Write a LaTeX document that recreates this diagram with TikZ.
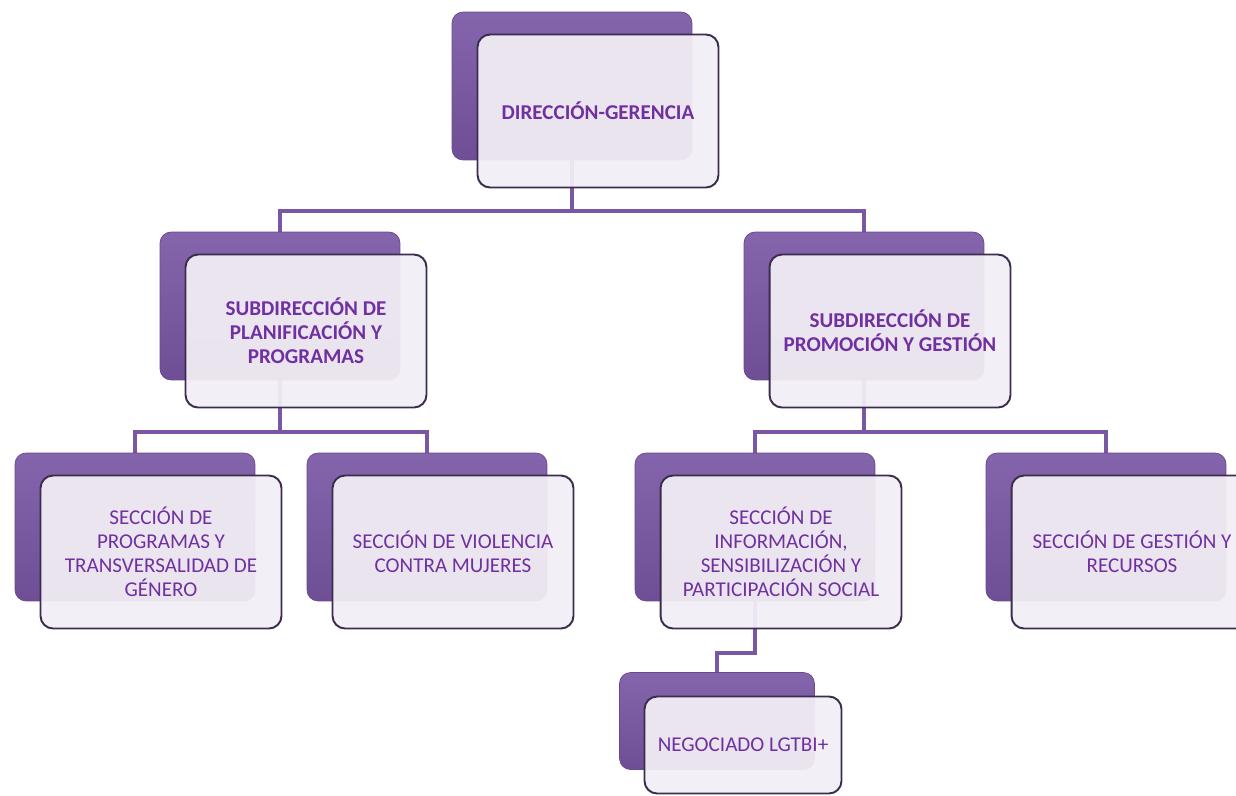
\documentclass[tikz,border=0pt]{standalone}
\usepackage{fontspec}
\setmainfont{Carlito}
\usetikzlibrary{positioning,backgrounds}
\definecolor{orgPurple}{HTML}{7A57A5}
\definecolor{orgEdge}{HTML}{3C2C4E}
\definecolor{orgText}{HTML}{7030A0}
\definecolor{orgPane}{HTML}{F2EEF5}

\begin{document}
\begin{tikzpicture}[x=0.02cm, y=-0.02cm, semithick]
	\tikzstyle{back} = [rectangle, rounded corners=0.22cm, draw=orgPurple!85!black, thin, top color=orgPurple!92!white, bottom color=orgPurple!90!black, minimum width=4.8cm, minimum height=2.96cm, inner sep=0pt];
	\tikzstyle{pane} = [rectangle, rounded corners=0.25cm, draw=orgEdge, line width=1.1pt, fill=orgPane, fill opacity=0.94, text opacity=1, minimum width=4.82cm, minimum height=3.06cm, align=center, text=orgText, font={\fontsize{12}{13.6}\selectfont}];
	\tikzstyle{paneHead} = [pane, font={\fontsize{12}{13.6}\selectfont\bfseries}];
	\tikzstyle{link} = [draw=orgPurple, line width=2.3pt];
	\useasboundingbox (0,0) rectangle (1236,795);

	% back plates
	\node[back] (dir) at (572,86) {};
	\node[back] (subA) at (280,306) {};
	\node[back] (subB) at (864,306) {};
	\node[back] (secA) at (135,527) {};
	\node[back] (secB) at (427,527) {};
	\node[back] (secC) at (755,527) {};
	\node[back] (secD) at (1106,527) {};
	\node[back, minimum width=3.9cm, minimum height=1.94cm] (neg) at (717,721) {};

	% connectors
	\begin{scope}[on background layer]
	\draw[link] (dir.south) -- ++(0,51) -| (subA.north);
	\draw[link] (dir.south) -- ++(0,51) -| (subB.north);
	\draw[link] (subA.south) -- ++(0,52) -| (secA.north);
	\draw[link] (subA.south) -- ++(0,52) -| (secB.north);
	\draw[link] (subB.south) -- ++(0,52) -| (secC.north);
	\draw[link] (subB.south) -- ++(0,52) -| (secD.north);
	\draw[link] (secC.south) -- ++(0,52) -| (neg.north);
	\end{scope}

	% front panes
	\node[paneHead] (dirT) at ([shift={(26,25)}]dir.center) {DIRECCIÓN-GERENCIA};
	\node[paneHead] (subAT) at ([shift={(26,25)}]subA.center) {SUBDIRECCIÓN DE\\PLANIFICACIÓN Y\\PROGRAMAS};
	\node[paneHead] (subBT) at ([shift={(26,25)}]subB.center) {SUBDIRECCIÓN DE\\PROMOCIÓN Y GESTIÓN};
	\node[pane] (secAT) at ([shift={(26,25)}]secA.center) {SECCIÓN DE\\PROGRAMAS Y\\TRANSVERSALIDAD DE\\GÉNERO};
	\node[pane] (secBT) at ([shift={(26,25)}]secB.center) {SECCIÓN DE VIOLENCIA\\CONTRA MUJERES};
	\node[pane] (secCT) at ([shift={(26,25)}]secC.center) {SECCIÓN DE\\INFORMACIÓN,\\SENSIBILIZACIÓN Y\\PARTICIPACIÓN SOCIAL};
	\node[pane] (secDT) at ([shift={(26,25)}]secD.center) {SECCIÓN DE GESTIÓN Y\\RECURSOS};
	\node[pane, minimum width=3.94cm, minimum height=1.94cm] (negT) at ([shift={(26,24)}]neg.center) {NEGOCIADO LGTBI+};
\end{tikzpicture}
\end{document}
